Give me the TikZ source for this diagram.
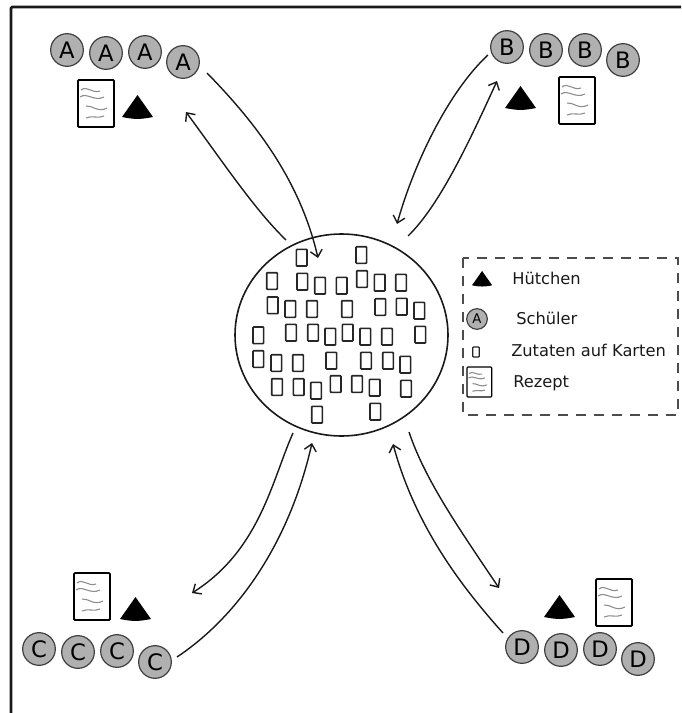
\documentclass[tikz,border=0pt]{standalone}
\usepackage{fontspec}
\setmainfont{DejaVu Sans}
\usetikzlibrary{arrows.meta}
\definecolor{schuelergray}{rgb}{0.69, 0.69, 0.69}
\definecolor{wavegray}{rgb}{0.55, 0.55, 0.55}
\tikzset{schueler/.style={draw=black!75, circle, fill=schuelergray, line width=0.9pt, minimum size=24.5pt, inner sep=0pt, font=\fontsize{17}{17}\selectfont}}
\tikzset{karte/.style={draw=black!85, rounded corners=0.6pt, line width=1.25pt, minimum width=8pt, minimum height=12.5pt, inner sep=0pt}}
\tikzset{weg/.style={line width=1.05pt, color=black!90}}
\tikzset{wegpfeil/.style={weg, -{Straight Barb[length=5pt, width=9pt]}}}
\tikzset{legendtext/.style={anchor=base west, inner sep=0pt, text=black!90, font=\fontsize{12.2}{14}\selectfont}}
\tikzset{huetchen/.pic={\fill (15.5,0) -- (0,22) to [bend right=12] (31,22) -- cycle;}}
\tikzset{rezept/.pic={
        \draw [rounded corners=0.8pt, fill=white] (0,0) rectangle (36,47);
        \draw [wavegray, line width=0.8pt] (3,10) .. controls (9,5) and (14,14) .. (22,11);
        \draw [wavegray, line width=0.8pt] (2,17) .. controls (9,12) and (16,22) .. (26,17);
        \draw [wavegray, line width=0.8pt] (8,26) .. controls (14,25) and (20,33) .. (29,28);
        \draw [wavegray, line width=0.8pt] (8,38) .. controls (14,35) and (20,39) .. (26,36);
}}

\begin{document}
\begin{tikzpicture}[x=0.75pt, y=-0.75pt]
        \useasboundingbox (0,0) rectangle (681,713);
        \draw [line width=2pt, rounded corners=1pt, color=black!90] (11,713) -- (11,7) -- (681,7);

        % Gruppe A
        \node[schueler] (A1) at (67,50) {A};
        \node[schueler] (A2) at (106,53) {A};
        \node[schueler] (A3) at (145,52) {A};
        \node[schueler] (A4) at (183,62) {A};
        \pic (hutA) at (122,95) {huetchen};
        \pic (rezA) at (78,80) [line width=1.4pt] {rezept};

        % Gruppe B
        \node[schueler] (B1) at (507,47) {B};
        \node[schueler] (B2) at (546,50) {B};
        \node[schueler] (B3) at (585,50) {B};
        \node[schueler] (B4) at (623,60) {B};
        \pic (hutB) at (505,86) {huetchen};
        \pic (rezB) at (559,77) [line width=1.4pt] {rezept};

        % Gruppe C
        \node[schueler] (C1) at (39,649) {C};
        \node[schueler] (C2) at (78,652) {C};
        \node[schueler] (C3) at (117,651) {C};
        \node[schueler] (C4) at (155,662) {C};
        \pic (hutC) at (120,597) {huetchen};
        \pic (rezC) at (74,573) [line width=1.4pt] {rezept};

        % Gruppe D
        \node[schueler] (D1) at (522,647) {D};
        \node[schueler] (D2) at (561,650) {D};
        \node[schueler] (D3) at (600,649) {D};
        \node[schueler] (D4) at (638,659) {D};
        \pic (hutD) at (544,595) {huetchen};
        \pic (rezD) at (596,579) [line width=1.4pt] {rezept};

        % Zutaten
        \draw [line width=1.2pt, color=black!90] (341.5,335) ellipse [x radius=106.5, y radius=101];
        \node[karte] (K1) at (301.7,257.7) {};
        \node[karte] (K2) at (361.3,255) {};
        \node[karte] (K3) at (272,281) {};
        \node[karte] (K4) at (302.3,281.7) {};
        \node[karte] (K5) at (320,285.7) {};
        \node[karte] (K6) at (341.7,285.7) {};
        \node[karte] (K7) at (362,279) {};
        \node[karte] (K8) at (379.7,282.7) {};
        \node[karte] (K9) at (401,282.7) {};
        \node[karte] (K10) at (272.7,305.3) {};
        \node[karte] (K11) at (290.3,309) {};
        \node[karte] (K12) at (312,309) {};
        \node[karte] (K13) at (347,309) {};
        \node[karte] (K14) at (380.3,307) {};
        \node[karte] (K15) at (401.7,306.7) {};
        \node[karte] (K16) at (419.3,310.7) {};
        \node[karte] (K17) at (258.3,335.3) {};
        \node[karte] (K18) at (291,332.7) {};
        \node[karte] (K19) at (313,332.7) {};
        \node[karte] (K20) at (330.3,336.7) {};
        \node[karte] (K21) at (347.7,332.7) {};
        \node[karte] (K22) at (365.3,336.7) {};
        \node[karte] (K23) at (387,336.7) {};
        \node[karte] (K24) at (420.3,334.7) {};
        \node[karte] (K25) at (258.3,359) {};
        \node[karte] (K26) at (276.3,363) {};
        \node[karte] (K27) at (298,363) {};
        \node[karte] (K28) at (331.3,360.7) {};
        \node[karte] (K29) at (366,360.7) {};
        \node[karte] (K30) at (388,360.7) {};
        \node[karte] (K31) at (405.3,364.7) {};
        \node[karte] (K32) at (277,387) {};
        \node[karte] (K33) at (298.7,387) {};
        \node[karte] (K34) at (316,390.7) {};
        \node[karte] (K35) at (335.7,384) {};
        \node[karte] (K36) at (357,384) {};
        \node[karte] (K37) at (374.7,387.7) {};
        \node[karte] (K38) at (406,388.7) {};
        \node[karte] (K39) at (317,414.7) {};
        \node[karte] (K40) at (375.3,411.7) {};

        % Wege
        \coordinate (Aaus) at (207,73);
        \coordinate (Aein) at (318,258);
        \coordinate (Astart) at (286,240);
        \coordinate (Aziel) at (186,112);
        \coordinate (Baus) at (488,55);
        \coordinate (Bein) at (397,224);
        \coordinate (Bstart) at (408,236);
        \coordinate (Bziel) at (497,81);
        \coordinate (Cstart) at (293,433);
        \coordinate (Cziel) at (192,593);
        \coordinate (Caus) at (177,657);
        \coordinate (Cein) at (312,443);
        \coordinate (Dstart) at (409,432);
        \coordinate (Dziel) at (499,588);
        \coordinate (Daus) at (503,633);
        \coordinate (Dein) at (393,444);

        \draw [wegpfeil] (Aaus) .. controls (255,122) and (300,180) .. (Aein);
        \draw [wegpfeil] (Astart) .. controls (255,210) and (225,165) .. (Aziel);
        \draw [wegpfeil] (Baus) .. controls (450,90) and (415,160) .. (Bein);
        \draw [wegpfeil] (Bstart) .. controls (440,205) and (470,140) .. (Bziel);
        \draw [wegpfeil] (Cstart) .. controls (272,480) and (260,550) .. (Cziel);
        \draw [wegpfeil] (Caus) .. controls (240,615) and (290,540) .. (Cein);
        \draw [wegpfeil] (Dstart) .. controls (425,480) and (460,530) .. (Dziel);
        \draw [wegpfeil] (Daus) .. controls (460,585) and (415,525) .. (Dein);

        % Legende
        \draw [line width=0.9pt, color=black!70, dash pattern=on 7.5pt off 6pt] (463,258) rectangle (678,415);
        \pic (hutL) at (472,271) [xscale=0.65, yscale=0.65] {huetchen};
        \node[schueler, minimum size=15.5pt, font=\fontsize{10}{10}\selectfont] (AL) at (477,319) {A};
        \node[karte, minimum width=5pt, minimum height=7.5pt, line width=0.9pt] (KL) at (476,352) {};
        \pic (rezL) at (467,367) [xscale=0.69, yscale=0.64, line width=0.9pt] {rezept};
        \node[legendtext] (Lhut) at (512,284) {Hütchen};
        \node[legendtext] (Lsch) at (516,324) {Schüler};
        \node[legendtext] (Lzut) at (511,356) {Zutaten auf Karten};
        \node[legendtext] (Lrez) at (513,387) {Rezept};
    \end{tikzpicture}
\end{document}
